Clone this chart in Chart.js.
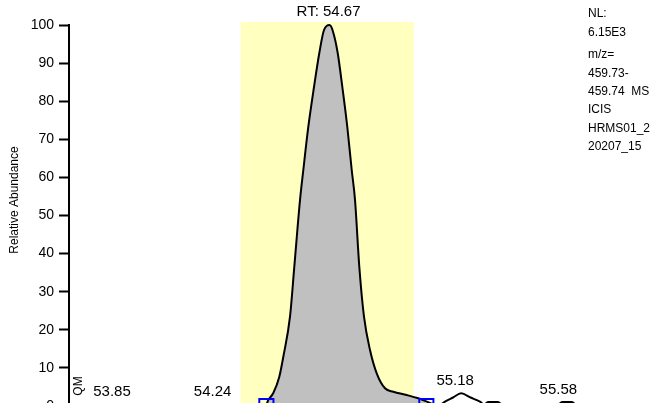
<!DOCTYPE html>
<html>
<head>
<meta charset="utf-8">
<script src="https://cdn.jsdelivr.net/npm/chart.js@4/dist/chart.umd.min.js"></script>
<style>
  html, body { margin: 0; padding: 0; background: #fff; overflow: hidden; }
  #wrap { width: 671px; height: 403px; overflow: hidden; }
  canvas { display: block; }
</style>
</head>
<body>
<div id="wrap"><canvas id="chrom" width="671" height="430"></canvas></div>
<script>
// retention time (min) and relative abundance (%) of the extracted ion trace
const rtMinutes = [
  53.66, 53.72, 53.78, 53.85, 53.92, 54.00, 54.08, 54.16, 54.24, 54.30,
  54.36, 54.40, 54.425, 54.4325, 54.4519, 54.4752, 54.4907, 54.5166, 54.5333, 54.5554,
  54.5682, 54.5875, 54.6096, 54.6302, 54.6484, 54.67, 54.6822, 54.7015, 54.7194, 54.7387,
  54.7558, 54.7686, 54.7852, 54.8034, 54.8267, 54.8527, 54.8848, 54.917, 54.9689, 55.0139,
  55.045, 55.07, 55.10, 55.1174, 55.1487, 55.18, 55.2165, 55.253, 55.27, 55.284,
  55.323, 55.34, 55.40, 55.46, 55.52, 55.555, 55.571, 55.58, 55.61, 55.625,
  55.66
];
const relAbundance = [
  0.2, 0.25, 0.3, 0.45, 0.25, 0.2, 0.3, 0.25, 0.45, 0.3,
  0.25, 0.3, 0.5, 1.57, 3.41, 7.69, 12.94, 23.44, 36.56, 54.07,
  61.94, 73.23, 83.73, 92.65, 98.69, 100, 98.5, 92.65, 83.73, 73.23,
  61.94, 54.07, 36.56, 23.44, 14.7, 8.58, 4.65, 3.75, 2.89, 2.02,
  1.2, 0.5, 0.4, 1.13, 2.23, 3.33, 2.23, 1.13, 0.4, 1.05,
  1.05, 0.3, 0.25, 0.3, 0.25, 0.3, 1.05, 1.05, 1.05, 0.3,
  0.25
];

// detected peak apexes
const peakTimes = [53.85, 54.24, 54.67, 55.18, 55.58];
const baseRt = 54.67;

// integration window of the main peak
const peakStart = 54.425;
const peakEnd = 55.045;

// highlighted retention window
const bandStart = 54.325;
const bandEnd = 54.996;

const yTicks = [0, 10, 20, 30, 40, 50, 60, 70, 80, 90, 100];

const infoLines = ["NL:", "6.15E3", "m/z=", "459.73-", "459.74  MS", "ICIS", "HRMS01_2", "20207_15"];

const trace = rtMinutes.map((t, i) => ({ x: t, y: relAbundance[i] }));
const integrated = trace.filter((p) => p.x >= peakStart && p.x <= peakEnd);
const markers = [peakStart, peakEnd].map((t) => ({ x: t, y: 0 }));

const FONT = "'Liberation Sans', Arial, sans-serif";
Chart.defaults.font.family = FONT;
Chart.defaults.color = "#000";

const bandPlugin = {
  id: "rtBand",
  beforeDatasetsDraw(chart) {
    const { ctx, chartArea, scales } = chart;
    const x0 = scales.x.getPixelForValue(bandStart);
    const x1 = scales.x.getPixelForValue(bandEnd);
    ctx.save();
    ctx.fillStyle = "#ffffc0";
    ctx.fillRect(x0, chartArea.top - 3, x1 - x0, chartArea.bottom - chartArea.top + 3);
    ctx.restore();
  },
};

const textPlugin = {
  id: "chromText",
  afterDraw(chart) {
    const { ctx, chartArea, scales } = chart;
    ctx.save();
    ctx.fillStyle = "#000";

    // peak labels above each apex
    ctx.font = "15px " + FONT;
    ctx.textAlign = "center";
    ctx.textBaseline = "middle";
    peakTimes.forEach((t) => {
      const i = rtMinutes.indexOf(t);
      const x = scales.x.getPixelForValue(t);
      const y = scales.y.getPixelForValue(relAbundance[i]);
      if (t === baseRt) {
        ctx.fillText("RT: " + t.toFixed(2), x - 1, y - 13);
      } else {
        ctx.fillText(t.toFixed(2), x - 6, y - 12);
      }
    });

    // y axis title
    ctx.font = "12px " + FONT;
    ctx.save();
    ctx.translate(15, 200);
    ctx.rotate(-Math.PI / 2);
    ctx.fillText("Relative Abundance", 0, 0);
    ctx.restore();

    // QM flag
    ctx.save();
    ctx.translate(chartArea.left + 10, 386);
    ctx.rotate(-Math.PI / 2);
    ctx.fillText("QM", 0, 0);
    ctx.restore();

    // trace info block
    ctx.textAlign = "left";
    let y = 14;
    infoLines.forEach((line, i) => {
      ctx.fillText(line, chartArea.right + 3, y);
      y += i === 1 ? 22.7 : 18.3;
    });
    ctx.restore();
  },
};

new Chart(document.getElementById("chrom"), {
  type: "line",
  data: {
    datasets: [
      {
        // integrated area sits underneath the trace
        data: integrated,
        order: 3,
        fill: "origin",
        backgroundColor: "#c0c0c0",
        borderColor: "rgba(0,0,0,0)",
        borderWidth: 0,
        pointRadius: 0,
        cubicInterpolationMode: "monotone",
      },
      {
        data: trace,
        order: 2,
        fill: false,
        borderColor: "#000",
        borderWidth: 2,
        borderJoinStyle: "round",
        pointRadius: 0,
        cubicInterpolationMode: "monotone",
        clip: false,
      },
      {
        data: markers,
        order: 1,
        showLine: false,
        pointStyle: "rect",
        pointRadius: 10,
        pointBorderColor: "#0000ff",
        pointBorderWidth: 2,
        pointBackgroundColor: "rgba(0,0,0,0)",
        clip: false,
      },
    ],
  },
  options: {
    responsive: false,
    animation: false,
    events: [],
    layout: { padding: { left: 0, right: 86, top: 25, bottom: 24 } },
    plugins: {
      legend: { display: false },
      tooltip: { enabled: false },
    },
    scales: {
      x: {
        type: "linear",
        min: 53.66,
        max: 55.66,
        display: false,
      },
      y: {
        min: 0,
        max: 100,
        afterBuildTicks(scale) {
          scale.ticks = yTicks.map((v) => ({ value: v }));
        },
        afterFit(scale) {
          scale.width = 69;
        },
        border: { display: true, color: "#000", width: 2 },
        grid: {
          drawOnChartArea: false,
          drawTicks: true,
          tickLength: 10,
          tickWidth: 2,
          tickColor: "#000",
        },
        ticks: {
          font: { size: 14 },
          color: "#000",
          padding: 5,
        },
      },
    },
  },
  plugins: [bandPlugin, textPlugin],
});
</script>
</body>
</html>
